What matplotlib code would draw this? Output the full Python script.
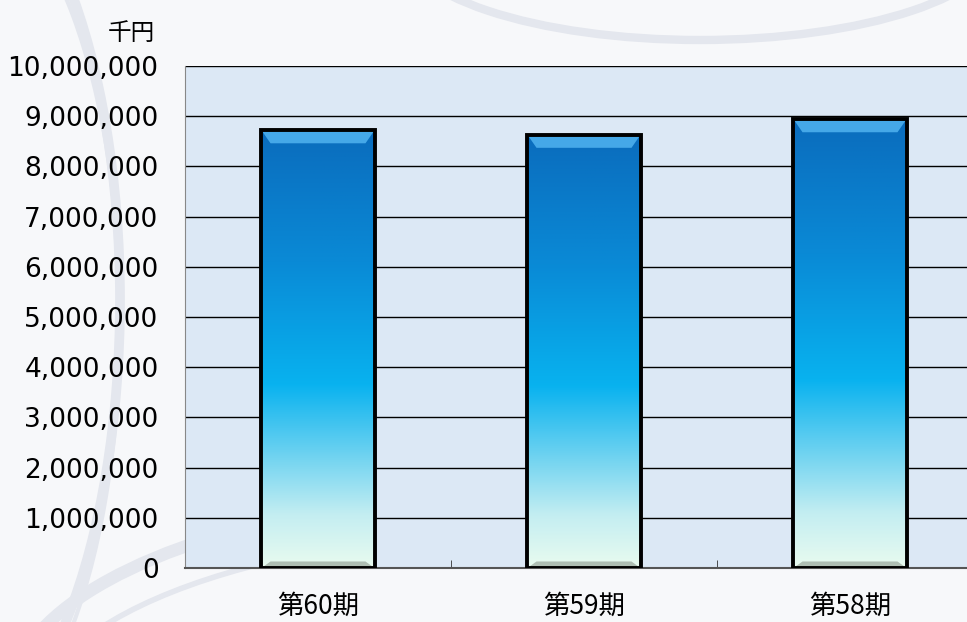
import numpy as np
import matplotlib.pyplot as plt
from matplotlib.colors import LinearSegmentedColormap
from matplotlib.patches import Polygon, Arc
from matplotlib.ticker import FuncFormatter, MultipleLocator

plt.rcParams['font.family'] = ['Noto Sans CJK JP', 'DejaVu Sans']

# data (千円)
periods = ['第60期', '第59期', '第58期']
sales = [8720000, 8630000, 8940000]

fig = plt.figure(figsize=(9.67, 6.22), dpi=100)
fig.patch.set_facecolor('#f7f8fa')

# faint swooshes in the background
bg = fig.add_axes([0, 0, 1, 1])
bg.set_xlim(0, 967)
bg.set_ylim(622, 0)
bg.axis('off')
for cx, cy, w, h, t1, t2, lw in [(560, 700, 1100, 420, 180, 330, 9),
                                  (560, 720, 1050, 380, 190, 320, 4),
                                  (-60, 300, 360, 900, 270, 90, 7),
                                  (-40, 320, 320, 860, 270, 90, 3),
                                  (700, -60, 600, 200, 0, 180, 6)]:
    bg.add_patch(Arc((cx, cy), w, h, theta1=t1, theta2=t2, color='#e4e7ee', lw=lw))

ax = fig.add_axes([185 / 967, 54 / 622, 798 / 967, 502 / 622])
ax.set_facecolor('#dce8f5')

x = np.arange(len(periods))
bars = ax.bar(x, sales, width=0.425, color='none', edgecolor='black', linewidth=2.8, zorder=3)

cmap = LinearSegmentedColormap.from_list('bar', [
    (0.0, '#e9fbef'), (0.12, '#c4eef2'), (0.42, '#08b2ef'),
    (0.7, '#0a8ad6'), (1.0, '#0a6cbd')])
grad = np.linspace(0, 1, 256).reshape(-1, 1)
for b in bars:
    x0, w, h = b.get_x(), b.get_width(), b.get_height()
    im = ax.imshow(grad, cmap=cmap, extent=[x0, x0 + w, 0, h], origin='lower',
                   aspect='auto', zorder=2.5)
    im.set_clip_path(b)
    # top bevel
    dx = w * 0.08
    dy = 260000
    ax.add_patch(Polygon([[x0, h], [x0 + w, h], [x0 + w - dx, h - dy], [x0 + dx, h - dy]],
                         closed=True, facecolor='#45a8e8', edgecolor='none', zorder=2.7))
    # bottom shading
    ax.add_patch(Polygon([[x0, 0], [x0 + w, 0], [x0 + w - dx, dy * 0.5], [x0 + dx, dy * 0.5]],
                         closed=True, facecolor='#8a968c', edgecolor='none', alpha=0.6, zorder=2.7))

ax.set_xlim(-0.5, len(periods) - 0.5)
ax.set_ylim(0, 10000000)
ax.yaxis.set_major_locator(MultipleLocator(1000000))
ax.yaxis.set_major_formatter(FuncFormatter(lambda v, p: f'{int(v):,}'))
ax.grid(axis='y', color='black', linewidth=1, zorder=1)
ax.set_axisbelow(True)

ax.set_xticks(x)
ax.set_xticklabels(periods, fontsize=19)
ax.set_xticks(x[:-1] + 0.5, minor=True)
ax.tick_params(axis='x', which='major', length=0, pad=18)
ax.tick_params(axis='x', which='minor', direction='in', length=6, color='#333333')
ax.tick_params(axis='y', length=0, pad=19)
for t in ax.get_yticklabels():
    t.set_fontfamily('DejaVu Sans')
    t.set_fontsize(19)

for s in ['top', 'right']:
    ax.spines[s].set_visible(False)
ax.spines['left'].set_color('#888888')
ax.spines['bottom'].set_color('#555555')
ax.spines['bottom'].set_linewidth(1.5)

fig.text(131 / 967, 1 - 33 / 622, '千円', fontsize=17, ha='center', va='center')

fig.savefig('out.png', dpi=100, facecolor=fig.get_facecolor())
